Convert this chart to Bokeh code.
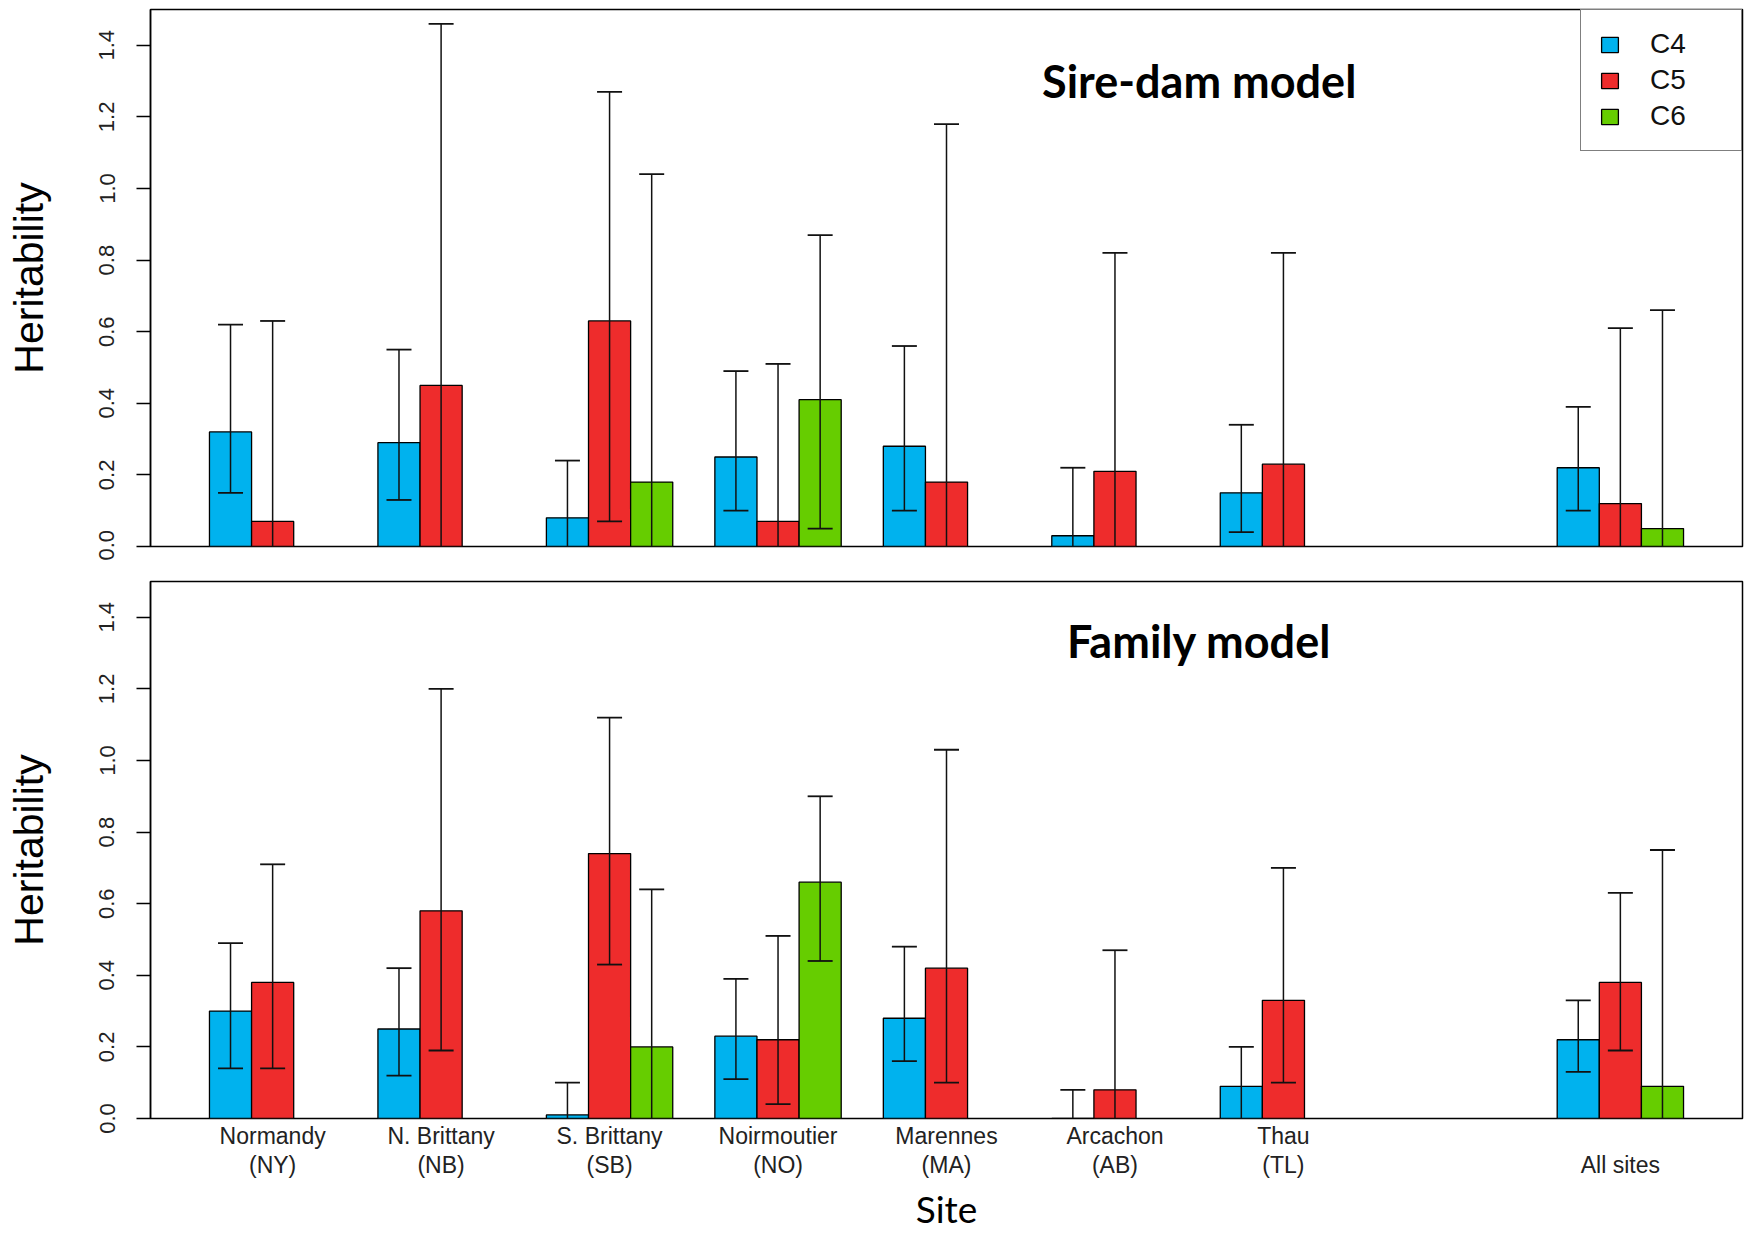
from bokeh.plotting import figure
from bokeh.models import (Range1d, FixedTicker, PrintfTickFormatter, Label,
                          Legend, LegendItem, ColumnDataSource)
from bokeh.layouts import column
from bokeh.embed import file_html
from bokeh.resources import INLINE

# ---------------- data ----------------
sites = ["Normandy\n(NY)", "N. Brittany\n(NB)", "S. Brittany\n(SB)", "Noirmoutier\n(NO)",
         "Marennes\n(MA)", "Arcachon\n(AB)", "Thau\n(TL)", "\nAll sites"]
slots = [0, 1, 2, 3, 4, 5, 6, 8]          # group slot on the axis (slot 7 left empty)
series = ["C4", "C5", "C6"]
colors = ["#00B2EE", "#EE2C2C", "#66CD00"]
y_ticks = [0.0, 0.2, 0.4, 0.6, 0.8, 1.0, 1.2, 1.4]

# Sire-dam model
sire_c4 = [0.32, 0.29, 0.08, 0.25, 0.28, 0.03, 0.15, 0.22]
sire_c4_lo = [0.15, 0.13, None, 0.10, 0.10, None, 0.04, 0.10]
sire_c4_hi = [0.62, 0.55, 0.24, 0.49, 0.56, 0.22, 0.34, 0.39]
sire_c5 = [0.07, 0.45, 0.63, 0.07, 0.18, 0.21, 0.23, 0.12]
sire_c5_lo = [None, None, 0.07, None, None, None, None, None]
sire_c5_hi = [0.63, 1.46, 1.27, 0.51, 1.18, 0.82, 0.82, 0.61]
sire_c6 = [None, None, 0.18, 0.41, None, None, None, 0.05]
sire_c6_lo = [None, None, None, 0.05, None, None, None, None]
sire_c6_hi = [None, None, 1.04, 0.87, None, None, None, 0.66]

# Family model
fam_c4 = [0.30, 0.25, 0.01, 0.23, 0.28, 0.0, 0.09, 0.22]
fam_c4_lo = [0.14, 0.12, None, 0.11, 0.16, None, None, 0.13]
fam_c4_hi = [0.49, 0.42, 0.10, 0.39, 0.48, 0.08, 0.20, 0.33]
fam_c5 = [0.38, 0.58, 0.74, 0.22, 0.42, 0.08, 0.33, 0.38]
fam_c5_lo = [0.14, 0.19, 0.43, 0.04, 0.10, None, 0.10, 0.19]
fam_c5_hi = [0.71, 1.20, 1.12, 0.51, 1.03, 0.47, 0.70, 0.63]
fam_c6 = [None, None, 0.20, 0.66, None, None, None, 0.09]
fam_c6_lo = [None, None, None, 0.44, None, None, None, None]
fam_c6_hi = [None, None, 0.64, 0.90, None, None, None, 0.75]

sire = [(sire_c4, sire_c4_lo, sire_c4_hi), (sire_c5, sire_c5_lo, sire_c5_hi),
        (sire_c6, sire_c6_lo, sire_c6_hi)]
fam = [(fam_c4, fam_c4_lo, fam_c4_hi), (fam_c5, fam_c5_lo, fam_c5_hi),
       (fam_c6, fam_c6_lo, fam_c6_hi)]

TICK_FONT = "Liberation Sans"
W = 1748


def make_panel(model, title, title_y, height, b_top, b_bottom, show_x, legend):
    p = figure(width=W, height=height, output_backend="svg", toolbar_location=None,
               x_range=Range1d(-0.4, 37.4), y_range=Range1d(0, 1.5),
               x_axis_location="below" if show_x else None,
               min_border_left=150, min_border_right=6,
               min_border_top=b_top, min_border_bottom=b_bottom)
    p.grid.visible = False
    p.outline_line_color = "black"
    p.outline_line_width = 1.5
    p.background_fill_color = "white"
    p.border_fill_color = "white"

    renderers = []
    for j, (vals, lo, hi) in enumerate(model):
        xs, tops = [], []
        ex, ey0, ey1, cx, cy = [], [], [], [], []
        for s, v, l, h in zip(slots, vals, lo, hi):
            if v is None:
                continue
            x = 1.5 + 4 * s + j
            xs.append(x)
            tops.append(v)
            if h is not None:
                ex.append(x)
                ey0.append(l if l is not None else 0.0)
                ey1.append(h)
                cx.append(x)
                cy.append(h)
                if l is not None:
                    cx.append(x)
                    cy.append(l)
        src = ColumnDataSource(dict(x=xs, top=tops))
        r = p.vbar(x="x", top="top", bottom=0, width=1.0, source=src,
                   fill_color=colors[j], line_color="black", line_width=1.3)
        renderers.append(r)
        p.segment(x0=ex, y0=ey0, x1=ex, y1=ey1, line_color="#111111", line_width=1.5)
        p.scatter(x=cx, y=cy, marker="dash", size=25, line_color="#111111", line_width=1.8)

    # y axis
    ya = p.yaxis[0]
    ya.ticker = FixedTicker(ticks=y_ticks)
    ya.formatter = PrintfTickFormatter(format="%.1f")
    ya.major_label_orientation = "vertical"
    ya.major_label_text_font = TICK_FONT
    ya.major_label_text_font_size = "22px"
    ya.major_label_text_color = "#222222"
    ya.major_label_standoff = 22
    ya.major_tick_out = 14
    ya.major_tick_in = 0
    ya.major_tick_line_width = 1.5
    ya.minor_tick_line_color = None
    ya.axis_line_width = 1.5
    ya.axis_label = "Heritability"
    ya.axis_label_text_font = "Liberation Sans"
    ya.axis_label_text_font_size = "41px"
    ya.axis_label_text_font_style = "normal"
    ya.axis_label_text_color = "black"
    ya.axis_label_standoff = 45

    if show_x:
        xa = p.xaxis[0]
        centers = [2.5 + 4 * s for s in slots]
        xa.ticker = FixedTicker(ticks=centers)
        xa.major_label_overrides = {c: lab for c, lab in zip(centers, sites)}
        xa.major_label_text_font = TICK_FONT
        xa.major_label_text_font_size = "23px"
        xa.major_label_text_color = "#222222"
        xa.major_label_text_line_height = 1.12
        xa.major_label_standoff = -2
        xa.major_tick_line_color = None
        xa.minor_tick_line_color = None
        xa.axis_line_color = None
        xa.axis_label = "Site"
        xa.axis_label_text_font = "Lato"
        xa.axis_label_text_font_size = "37px"
        xa.axis_label_text_font_style = "normal"
        xa.axis_label_text_color = "black"
        xa.axis_label_text_line_height = 1.0
        xa.axis_label_standoff = 5

    p.add_layout(Label(x=24.5, y=title_y, text=title, text_font="Lato",
                       text_font_style="bold", text_font_size="45px",
                       text_align="center", text_baseline="middle", text_color="black"))

    if legend:
        leg = Legend(items=[LegendItem(label=series[k], renderers=[renderers[k]])
                            for k in range(3)],
                     location="top_right", margin=0, padding=18, spacing=4,
                     glyph_width=21, glyph_height=19, label_standoff=30,
                     label_height=20, label_width=73,
                     label_text_font="Liberation Sans", label_text_font_size="28px",
                     label_text_color="#111111",
                     border_line_color="black", border_line_width=1.5,
                     background_fill_color="white", background_fill_alpha=1.0)
        p.add_layout(leg)
    return p


top = make_panel(sire, "Sire-dam model", 1.30, 560, 9, 14, False, True)
bottom = make_panel(fam, "Family model", 1.335, 674, 21, 116, True, False)

layout = column(top, bottom, spacing=0)
open("out.html", "w").write(file_html(layout, INLINE))
